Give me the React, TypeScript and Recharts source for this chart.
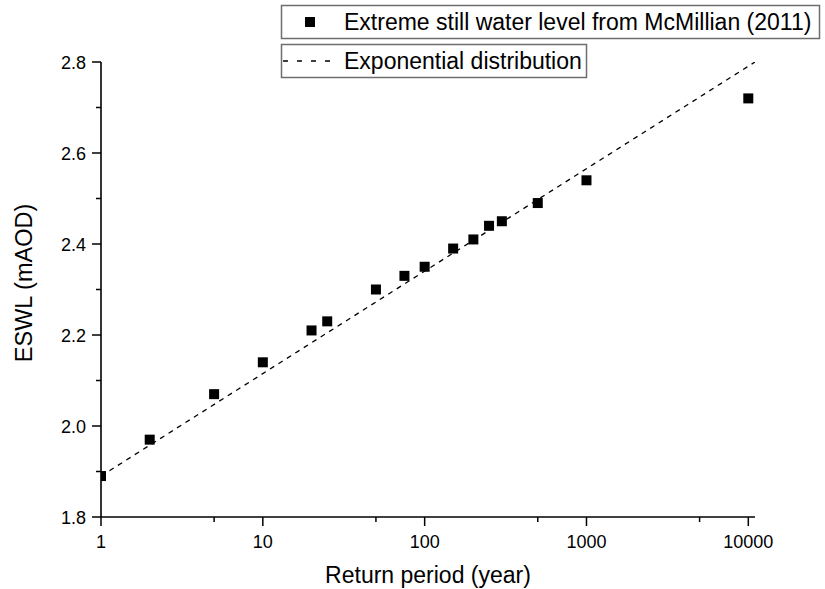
import React from 'react';
import { ComposedChart, Scatter, XAxis, YAxis, Legend } from 'recharts';

// Return periods (years) and ESWL values
const returnPeriods = [1, 2, 5, 10, 20, 25, 50, 75, 100, 150, 200, 250, 300, 500, 1000, 10000];
const eswlValues = [1.89, 1.97, 2.07, 2.14, 2.21, 2.23, 2.3, 2.33, 2.35, 2.39, 2.41, 2.44, 2.45, 2.49, 2.54, 2.72];

// Fitted exponential distribution, end points of the dashed line
const fitPeriods = [1, 11000];
const fitValues = [1.89, 2.8];

const xMajorTicks = [1, 10, 100, 1000, 10000];
const xMinorTicks = [5, 50, 500, 5000];
const yMajorTicks = [1.8, 2.0, 2.2, 2.4, 2.6, 2.8];
const yMinorTicks = [1.9, 2.1, 2.3, 2.5, 2.7];

const FONT = '"Liberation Sans", Arial, sans-serif';

const observed = returnPeriods.map((x, i) => ({ x, y: eswlValues[i] }));
const fitted = fitPeriods.map((x, i) => ({ x, y: fitValues[i] }));

const isMajor = (list: number[], v: number) => list.some((t) => Math.abs(t - v) < 1e-6);

const XTick = (props: any) => {
  const { x, y, payload } = props;
  const major = isMajor(xMajorTicks, payload.value);
  return (
    <g>
      <line x1={x} x2={x} y1={y} y2={y + (major ? 9 : 5)} stroke="#000" strokeWidth={1.5} />
      {major && (
        <text x={x} y={y + 31} textAnchor="middle" fontSize={18} fontFamily={FONT} fill="#000">
          {payload.value}
        </text>
      )}
    </g>
  );
};

const YTick = (props: any) => {
  const { x, y, payload } = props;
  const major = isMajor(yMajorTicks, payload.value);
  return (
    <g>
      <line x1={x} x2={x - (major ? 9 : 5)} y1={y} y2={y} stroke="#000" strokeWidth={1.5} />
      {major && (
        <text x={x - 15} y={y + 6.5} textAnchor="end" fontSize={18} fontFamily={FONT} fill="#000">
          {Number(payload.value).toFixed(1)}
        </text>
      )}
    </g>
  );
};

const Square = (props: any) => {
  const { cx, cy } = props;
  if (cx == null || cy == null) return <g />;
  return <rect x={cx - 5} y={cy - 5} width={10} height={10} fill="#000" />;
};

const LegendBoxes = () => (
  <svg width={825} height={80} style={{ display: 'block' }}>
    <rect x={281.5} y={5.5} width={538} height={33} fill="#fff" stroke="#6e6e6e" strokeWidth={1.5} />
    <rect x={305} y={17} width={10} height={10} fill="#000" />
    <text x={344} y={30} fontSize={23} fontFamily={FONT} fill="#000">
      Extreme still water level from McMillian (2011)
    </text>
    <rect x={281.5} y={44.5} width={305} height={33} fill="#fff" stroke="#6e6e6e" strokeWidth={1.5} />
    <line x1={283} x2={338} y1={61} y2={61} stroke="#000" strokeWidth={1.3} strokeDasharray="5 9" />
    <text x={344} y={69} fontSize={23} fontFamily={FONT} fill="#000">
      Exponential distribution
    </text>
  </svg>
);

export default function App() {
  return (
    <div style={{ position: 'absolute', left: 0, top: 0, background: '#fff' }}>
      <ComposedChart width={825} height={589} margin={{ top: 62, right: 70, bottom: 0, left: 0 }}>
        <XAxis
          type="number"
          dataKey="x"
          scale="log"
          domain={[1, 11000]}
          allowDataOverflow
          ticks={[...xMajorTicks, ...xMinorTicks].sort((a, b) => a - b)}
          interval={0}
          tickSize={0}
          tickMargin={0}
          tickLine={false}
          tick={<XTick />}
          height={72}
          axisLine={{ stroke: '#000', strokeWidth: 1.6 }}
          label={{
            content: () => (
              <text x={428} y={583} textAnchor="middle" fontSize={23} fontFamily={FONT} fill="#000">
                Return period (year)
              </text>
            ),
          }}
        />
        <YAxis
          type="number"
          dataKey="y"
          domain={[1.8, 2.8]}
          allowDataOverflow
          ticks={[...yMajorTicks, ...yMinorTicks].sort((a, b) => a - b)}
          interval={0}
          tickSize={0}
          tickMargin={0}
          tickLine={false}
          tick={<YTick />}
          width={101}
          axisLine={{ stroke: '#000', strokeWidth: 1.6 }}
          label={{
            content: () => (
              <text x={32} y={283} transform="rotate(-90 32 283)" textAnchor="middle" fontSize={23.5} fontFamily={FONT} fill="#000">
                ESWL (mAOD)
              </text>
            ),
          }}
        />
        <Legend
          layout="vertical"
          align="center"
          verticalAlign="middle"
          wrapperStyle={{ left: 0, top: 0, width: 825, height: 80 }}
          content={() => <LegendBoxes />}
        />
        <Scatter
          name="Exponential distribution"
          data={fitted}
          line={{ stroke: '#000', strokeWidth: 1.3, strokeDasharray: '5 5' }}
          shape={() => <g />}
          isAnimationActive={false}
        />
        <Scatter
          name="Extreme still water level from McMillian (2011)"
          data={observed}
          shape={<Square />}
          isAnimationActive={false}
        />
      </ComposedChart>
    </div>
  );
}
